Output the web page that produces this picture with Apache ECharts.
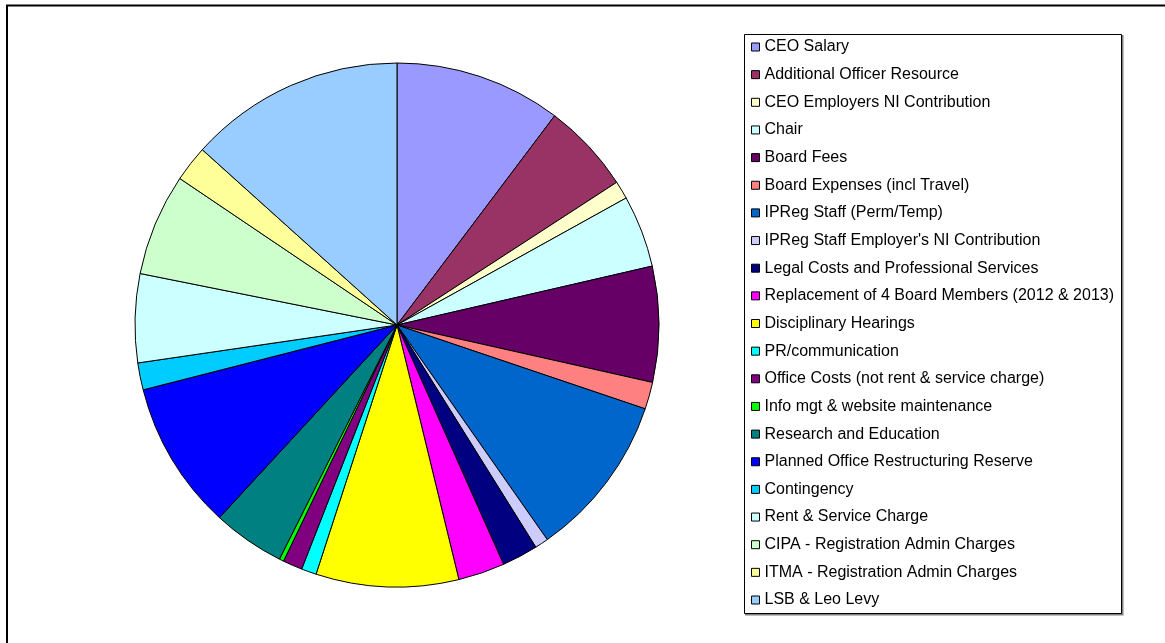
<!DOCTYPE html>
<html>
<head>
<meta charset="utf-8">
<script src="https://cdn.jsdelivr.net/npm/echarts@6/dist/echarts.min.js"></script>
<style>
    html, body {margin: 0; padding: 0; background: #fff;}
    #main {width: 1165px; height: 643px;}
</style>
</head>
<body>
<div id="main"></div>
<script>
// budget lines (£k)
let categories = [
    'CEO Salary',
    'Additional Officer Resource',
    'CEO Employers NI Contribution',
    'Chair',
    'Board Fees',
    'Board Expenses (incl Travel)',
    'IPReg Staff (Perm/Temp)',
    "IPReg Staff Employer's NI Contribution",
    'Legal Costs and Professional Services',
    'Replacement of 4 Board Members (2012 & 2013)',
    'Disciplinary Hearings',
    'PR/communication',
    'Office Costs (not rent & service charge)',
    'Info mgt & website maintenance',
    'Research and Education',
    'Planned Office Restructuring Reserve',
    'Contingency',
    'Rent & Service Charge',
    'CIPA - Registration Admin Charges',
    'ITMA - Registration Admin Charges',
    'LSB & Leo Levy'
];
let values = [111, 60, 12, 48, 77, 18, 109, 9, 24, 31, 95, 10, 13, 3, 48, 99, 18, 59, 68, 24, 144];
let colors = [
    '#9999FF', '#993366', '#FFFFCC', '#CCFFFF', '#660066', '#FF8080', '#0066CC',
    '#CCCCFF', '#000080', '#FF00FF', '#FFFF00', '#00FFFF', '#800080', '#00FF00',
    '#008080', '#0000FF', '#00CCFF', '#CCFFFF', '#CCFFCC', '#FFFF99', '#99CCFF'
];

let pieData = [];
for (let i = 0; i < categories.length; i++) {
    pieData.push({name: categories[i], value: values[i], itemStyle: {color: colors[i]}});
}

let myChart = echarts.init(document.getElementById('main'));
let option = {
    backgroundColor: '#fff',
    animation: false,
    graphic: [
        {   // chart area frame
            type: 'rect',
            shape: {x: 7, y: 5.5, width: 1300, height: 800},
            style: {fill: 'none', stroke: '#000', lineWidth: 2},
            silent: true
        },
        {   // legend box with grey shadow edge
            type: 'polyline',
            shape: {points: [[1122.5, 35], [1122.5, 614.5], [745, 614.5]]},
            style: {fill: 'none', stroke: '#808080', lineWidth: 2},
            silent: true
        },
        {
            type: 'rect',
            shape: {x: 744.5, y: 34.5, width: 377, height: 579},
            style: {fill: 'none', stroke: '#000', lineWidth: 1},
            silent: true
        }
    ],
    legend: {
        orient: 'vertical',
        left: 744,
        top: 34,
        padding: [4, 7, 4, 7],
        itemWidth: 8,
        itemHeight: 8,
        itemGap: 9.65,
        icon: 'rect',
        selectedMode: false,
        itemStyle: {borderColor: '#000', borderWidth: 1},
        textStyle: {
            fontFamily: 'Liberation Sans, Arial, sans-serif',
            fontSize: 16,
            lineHeight: 18,
            color: '#000'
        },
        data: categories
    },
    series: [{
        type: 'pie',
        center: [397, 325],
        radius: 262,
        startAngle: 90,
        clockwise: true,
        avoidLabelOverlap: false,
        label: {show: false},
        labelLine: {show: false},
        emphasis: {disabled: true},
        itemStyle: {borderColor: '#000', borderWidth: 1},
        data: pieData
    }]
};
myChart.setOption(option);
</script>
</body>
</html>
